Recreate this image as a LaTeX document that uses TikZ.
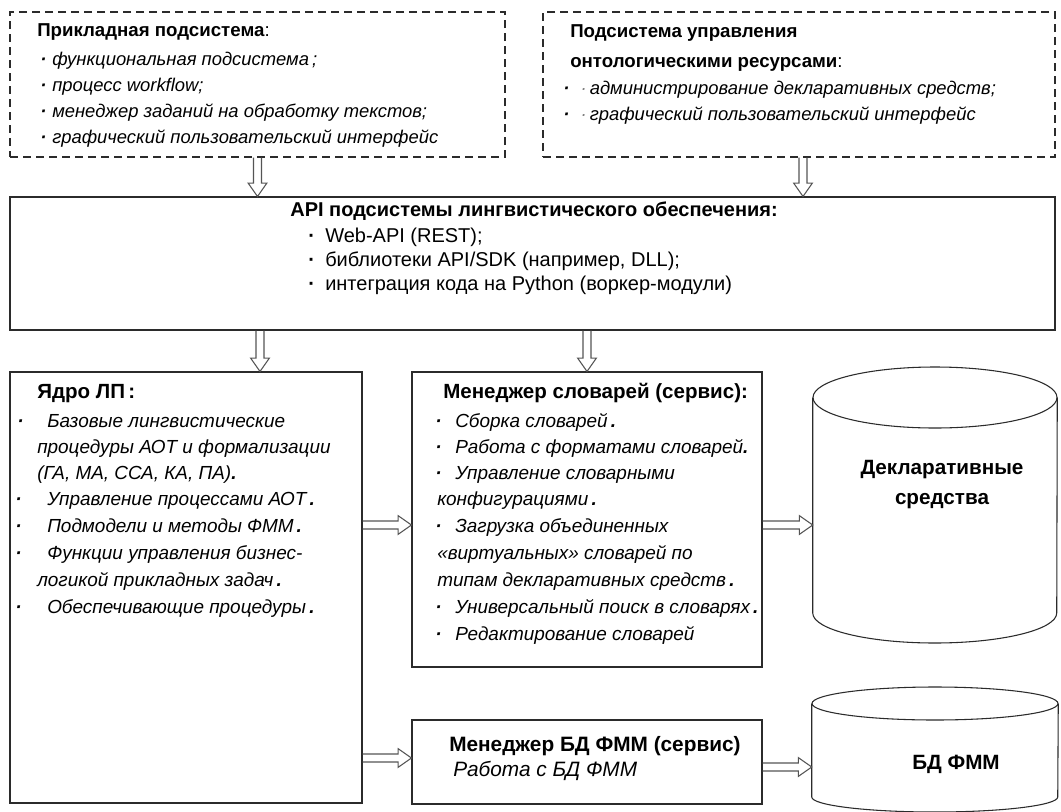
\documentclass[tikz,border=0pt]{standalone}
\usepackage{fontspec}
\setmainfont{Liberation Sans}
\usetikzlibrary{fit,calc}
\definecolor{edge}{HTML}{2B2B2B}
\definecolor{arrowgray}{HTML}{555555}
% small list bullet set in a box of the given width
\newcommand\bul[1]{\makebox[#1][l]{\bfseries ·}}
\tikzset{
  frame/.style={draw=edge, line width=0.8pt, inner sep=0pt},
  dashframe/.style={frame, dash pattern=on 6pt off 3.75pt},
  txt/.style={inner sep=0pt, anchor=base west},
  toptitle/.style={font=\fontsize{14}{16}\selectfont\bfseries},
  topitem/.style={font=\fontsize{13.8}{16}\selectfont\itshape},
  apititle/.style={font=\fontsize{15}{17}\selectfont\bfseries},
  apiitem/.style={font=\fontsize{15}{17}\selectfont},
  coretitle/.style={font=\fontsize{15.4}{17}\selectfont\bfseries},
  coreitem/.style={font=\fontsize{14.2}{17}\selectfont\itshape},
  dbmtitle/.style={font=\fontsize{15.6}{17}\selectfont\bfseries},
  dbmitem/.style={font=\fontsize{15.6}{17}\selectfont\itshape},
  dblabel/.style={inner sep=0pt, anchor=base, align=center,
    font=\fontsize{15.5}{22.5}\selectfont\bfseries},
  downarrow/.style={draw=arrowgray, line width=0.8pt, to path={
    let \p1=(\tikztostart), \p2=(\tikztotarget) in
    (\x1-3pt,\y1) -- (\x1-3pt,\y2+10pt) -- (\x1-7pt,\y2+10pt) -- (\x1,\y2)
    -- (\x1+7pt,\y2+10pt) -- (\x1+3pt,\y2+10pt) -- (\x1+3pt,\y1)}},
  rightarrow/.style={draw=arrowgray, line width=0.8pt, to path={
    let \p1=(\tikztostart), \p2=(\tikztotarget) in
    (\x1,\y1+3pt) -- (\x2-10pt,\y1+3pt) -- (\x2-10pt,\y1+7pt) -- (\x2,\y1)
    -- (\x2-10pt,\y1-7pt) -- (\x2-10pt,\y1-3pt) -- (\x1,\y1-3pt)}},
}
\begin{document}
\begin{tikzpicture}[x=0.75pt,y=-0.75pt]
\useasboundingbox[fill=white] (0,0) rectangle (1061,811);

% ---------- frames ----------
\node[dashframe, fit={(10,12) (505,157)}] (tl) {};
\node[dashframe, fit={(543,12) (1055,157)}] (tr) {};
\node[frame, fit={(10,197) (1055,330)}] (api) {};
\node[frame, fit={(10,372) (362,803)}] (core) {};
\node[frame, fit={(412,372) (762,667)}] (dict) {};
\node[frame, fit={(412,720) (762,804)}] (dbm) {};
\node[inner sep=0pt, fit={(813,367) (1057,643)}] (decl) {};
\node[inner sep=0pt, fit={(812,687) (1058,811)}] (db) {};

% ---------- storage cylinders ----------
\draw[edge, line width=0.8pt] (decl.north west |- 0,397.5) -- (decl.west |- 0,613)
  arc[start angle=180, end angle=0, x radius=122, y radius=30] -- (decl.north east |- 0,397.5);
\draw[edge, line width=0.8pt] (935,397.5) ellipse[x radius=122, y radius=30.5];
\draw[edge, line width=0.8pt] (db.west |- 0,703.5) -- (db.west |- 0,797)
  arc[start angle=180, end angle=0, x radius=123, y radius=15] -- (db.east |- 0,703.5);
\draw[edge, line width=0.8pt] (935,703.5) ellipse[x radius=123, y radius=16.5];

% ---------- applied subsystem ----------
\node[txt, toptitle] (tlh) at (37,36) {Прикладная подсистема\textmd{:}};
\node[txt, topitem] (tl1) at (40,65) {\bul{9pt}функциональная подсистема\,;};
\node[txt, topitem] (tl2) at (40,91) {\bul{9pt}процесс workflow;};
\node[txt, topitem] (tl3) at (40,117) {\bul{9pt}менеджер заданий на обработку текстов;};
\node[txt, topitem] (tl4) at (40,143) {\bul{9pt}графический пользовательский интерфейс};

% ---------- ontology resources subsystem ----------
\node[txt, toptitle] (trh1) at (570,37) {Подсистема управления};
\node[txt, toptitle] (trh2) at (570,67) {онтологическими ресурсами\textmd{:}};
\node[txt, topitem] (tr1) at (563,94) {\bul{13pt}{\color{gray}·}\,администрирование декларативных средств;};
\node[txt, topitem] (tr2) at (563,120) {\bul{13pt}{\color{gray}·}\,графический пользовательский интерфейс};

% ---------- API ----------
\node[inner sep=0pt, anchor=base, apititle] (apih) at (534,216) {API подсистемы лингвистического обеспечения:};
\node[txt, apiitem] (api1) at (308,242) {\bul{12.75pt}Web-API (REST);};
\node[txt, apiitem] (api2) at (308,266) {\bul{12.75pt}библиотеки API/SDK (например, DLL);};
\node[txt, apiitem] (api3) at (308,290) {\bul{12.75pt}интеграция кода на Python (воркер-модули)};

% ---------- LP core ----------
\node[txt, coretitle] (coreh) at (37,398) {Ядро ЛП\,:};
\node[txt, coreitem] (c1) at (17,427) {\bul{22.5pt}Базовые лингвистические};
\node[txt, coreitem] (c2) at (37,453) {процедуры АОТ и формализации};
\node[txt, coreitem] (c3) at (37,479) {(ГА, МА, ССА, КА, ПА)\textbf{.}};
\node[txt, coreitem] (c4) at (15,505) {\bul{24pt}Управление процессами АОТ\,\textbf{.}};
\node[txt, coreitem] (c5) at (15,532) {\bul{24pt}Подмодели и методы ФММ\,\textbf{.}};
\node[txt, coreitem] (c6) at (15,559) {\bul{24pt}Функции управления бизнес-};
\node[txt, coreitem] (c7) at (37,586) {логикой прикладных задач\,\textbf{.}};
\node[txt, coreitem] (c8) at (15,613) {\bul{24pt}Обеспечивающие процедуры\,\textbf{.}};

% ---------- dictionary manager ----------
\node[txt, coretitle] (dicth) at (443,398) {Менеджер словарей (сервис):};
\node[txt, coreitem] (d1) at (435,427) {\bul{15pt}Сборка словарей\,\textbf{.}};
\node[txt, coreitem] (d2) at (435,453) {\bul{15pt}Работа с форматами словарей\textbf{.}};
\node[txt, coreitem] (d3) at (435,479) {\bul{15pt}Управление словарными};
\node[txt, coreitem] (d4) at (437,505) {конфигурациями\,\textbf{.}};
\node[txt, coreitem] (d5) at (435,532) {\bul{15pt}Загрузка объединенных};
\node[txt, coreitem] (d6) at (437,559) {«виртуальных» словарей по};
\node[txt, coreitem] (d7) at (437,586) {типам декларативных средств\,\textbf{.}};
\node[txt, coreitem] (d8) at (435,613) {\bul{15pt}Универсальный поиск в словарях\,\textbf{.}};
\node[txt, coreitem] (d9) at (435,640) {\bul{15pt}Редактирование словарей};

% ---------- FMM database manager ----------
\node[txt, dbmtitle] (dbmh) at (449,751) {Менеджер БД ФММ (сервис)};
\node[txt, dbmitem] (dbm1) at (453,776) {Работа с БД ФММ};

% ---------- storage labels ----------
\node[dblabel] (declh) at (942,504) {Декларативные\\средства};
\node[dblabel] (dbh) at (956,769) {БД ФММ};

% ---------- block arrows ----------
\draw[downarrow] (tl.south) to (tl.south |- api.north);
\draw[downarrow] ($(tr.south)+(4,0)$) to ($(tr.south |- api.north)+(4,0)$);
\draw[downarrow] (api.south -| 260,0) to (core.north -| 260,0);
\draw[downarrow] (api.south -| dict.north) to (dict.north);
\draw[rightarrow] (core.east |- 0,525) to (dict.west |- 0,525);
\draw[rightarrow] (dict.east |- 0,525) to (decl.west |- 0,525);
\draw[rightarrow] (core.east |- 0,758) to (dbm.west |- 0,758);
\draw[rightarrow] (dbm.east |- 0,767) to (db.west |- 0,767);
\end{tikzpicture}
\end{document}
